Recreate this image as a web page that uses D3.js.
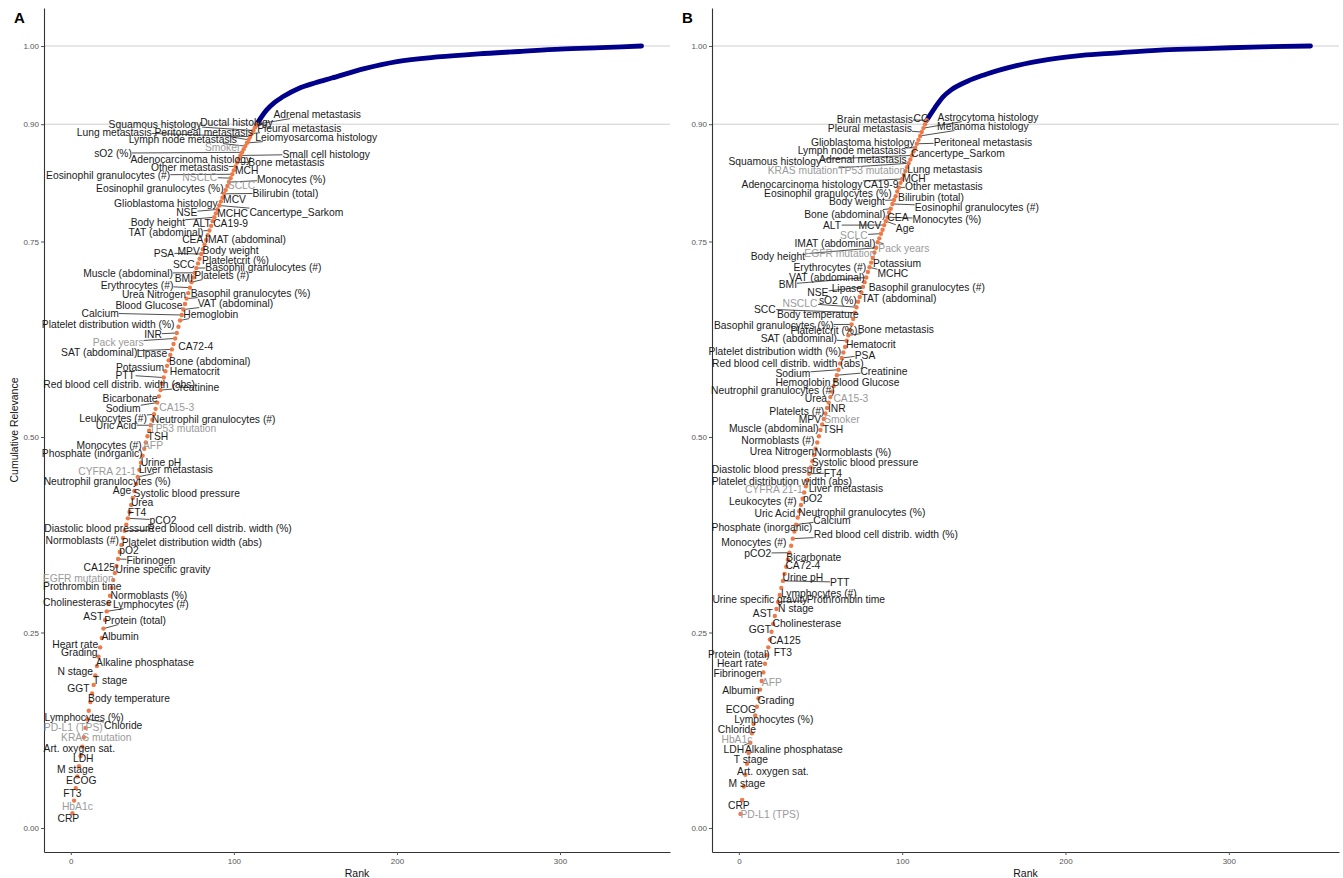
<!DOCTYPE html>
<html><head><meta charset="utf-8">
<script src="https://cdn.jsdelivr.net/npm/d3@7"></script>
<style>
body{margin:0;background:#fff;}
svg{display:block;font-family:"Liberation Sans",Arial,Helvetica,sans-serif;}
</style>
</head><body>
<svg id="chart" width="1343" height="878"></svg>
<script>
// ---------------- DATA ----------------
const featuresA = ["CRP","HbA1c","FT3","ECOG","M stage","LDH","Art. oxygen sat.","KRAS mutation","PD-L1 (TPS)","Chloride",
"Lymphocytes (%)","Body temperature","GGT","T stage","N stage","Alkaline phosphatase","Grading","Heart rate","Albumin","Protein (total)",
"AST","Lymphocytes (#)","Cholinesterase","Normoblasts (%)","Prothrombin time","EGFR mutation","Urine specific gravity","CA125","Fibrinogen","pO2",
"Platelet distribution width (abs)","Normoblasts (#)","Red blood cell distrib. width (%)","Diastolic blood pressure","pCO2","FT4","Urea","Systolic blood pressure","Age","Neutrophil granulocytes (%)",
"Liver metastasis","CYFRA 21-1","Urine pH","Phosphate (inorganic)","AFP","Monocytes (#)","TSH","TP53 mutation","Uric Acid","Neutrophil granulocytes (#)",
"Leukocytes (#)","CA15-3","Sodium","Bicarbonate","Creatinine","Red blood cell distrib. width (abs)","PTT","Hematocrit","Potassium","Bone (abdominal)",
"Lipase","SAT (abdominal)","CA72-4","Pack years","INR","Platelet distribution width (%)","Hemoglobin","Calcium","VAT (abdominal)","Blood Glucose",
"Basophil granulocytes (%)","Urea Nitrogen","Erythrocytes (#)","Platelets (#)","BMI","Muscle (abdominal)","Basophil granulocytes (#)","SCC","Plateletcrit (%)","PSA",
"MPV","Body weight","IMAT (abdominal)","CEA","TAT (abdominal)","CA19-9","ALT","Body height","MCHC","NSE",
"Cancertype_Sarkom","Glioblastoma histology","MCV","Bilirubin (total)","Eosinophil granulocytes (%)","SCLC","Monocytes (%)","NSCLC","Eosinophil granulocytes (#)","MCH",
"Other metastasis","Bone metastasis","Adenocarcinoma histology","Small cell histology","sO2 (%)","Smoker","Lymph node metastasis","Leiomyosarcoma histology","Peritoneal metastasis","Lung metastasis",
"Pleural metastasis","Squamous histology","Ductal histology","Adrenal metastasis"];

const valuesA = [0.019,0.035,0.051,0.066,0.079,0.092,0.104,0.116,0.128,0.139,
0.150,0.161,0.172,0.183,0.195,0.207,0.219,0.231,0.243,0.255,
0.266,0.277,0.287,0.297,0.307,0.317,0.326,0.335,0.344,0.353,
0.362,0.371,0.380,0.388,0.396,0.404,0.413,0.422,0.431,0.440,
0.449,0.458,0.467,0.476,0.485,0.493,0.501,0.508,0.515,0.522,
0.529,0.536,0.544,0.552,0.560,0.568,0.576,0.584,0.591,0.598,
0.605,0.612,0.619,0.626,0.633,0.641,0.649,0.656,0.663,0.670,
0.677,0.684,0.691,0.698,0.704,0.710,0.716,0.722,0.728,0.734,
0.740,0.746,0.752,0.758,0.764,0.770,0.776,0.781,0.786,0.791,
0.796,0.801,0.806,0.811,0.816,0.821,0.826,0.831,0.836,0.841,
0.846,0.851,0.856,0.860,0.864,0.868,0.872,0.876,0.880,0.884,
0.888,0.892,0.896,0.900];

const tailRanksA = [114,120,125,130,140,150,160,180,200,225,250,275,300,325,350];
const tailValuesA = [0.900,0.918,0.928,0.935,0.946,0.953,0.959,0.971,0.980,0.986,0.990,0.993,0.996,0.998,1.000];

const featuresB = ["PD-L1 (TPS)","CRP","M stage","Art. oxygen sat.","T stage","Alkaline phosphatase","LDH","HbA1c","Chloride","Lymphocytes (%)",
"ECOG","Grading","Albumin","AFP","Fibrinogen","Heart rate","Protein (total)","FT3","CA125","GGT",
"Cholinesterase","AST","N stage","Prothrombin time","Urine specific gravity","Lymphocytes (#)","PTT","Urine pH","CA72-4","Bicarbonate",
"pCO2","Monocytes (#)","Red blood cell distrib. width (%)","Phosphate (inorganic)","Calcium","Uric Acid","Neutrophil granulocytes (%)","Leukocytes (#)","pO2","Liver metastasis",
"CYFRA 21-1","Platelet distribution width (abs)","FT4","Diastolic blood pressure","Systolic blood pressure","Normoblasts (%)","Urea Nitrogen","Normoblasts (#)","TSH","Muscle (abdominal)",
"Smoker","MPV","INR","Platelets (#)","CA15-3","Urea","Neutrophil granulocytes (#)","Blood Glucose","Hemoglobin","Creatinine",
"Sodium","Red blood cell distrib. width (abs)","PSA","Platelet distribution width (%)","Hematocrit","SAT (abdominal)","Bone metastasis","Plateletcrit (%)","Basophil granulocytes (%)","Body temperature",
"SCC","NSCLC","TAT (abdominal)","sO2 (%)","Lipase","NSE","Basophil granulocytes (#)","BMI","VAT (abdominal)","MCHC",
"Erythrocytes (#)","Potassium","EGFR mutation","Body height","Pack years","IMAT (abdominal)","SCLC","MCV","ALT","Age",
"Monocytes (%)","CEA","Bone (abdominal)","Eosinophil granulocytes (#)","Body weight","Bilirubin (total)","Eosinophil granulocytes (%)","Other metastasis","CA19-9","Adenocarcinoma histology",
"MCH","Lung metastasis","TP53 mutation","KRAS mutation","Adrenal metastasis","Squamous histology","Cancertype_Sarkom","Lymph node metastasis","Peritoneal metastasis","Glioblastoma histology",
"Melanoma histology","Pleural metastasis","Astrocytoma histology","CC","Brain metastasis"];

const valuesB = [0.018,0.036,0.053,0.068,0.082,0.096,0.109,0.121,0.133,0.144,
0.155,0.166,0.177,0.188,0.199,0.210,0.221,0.231,0.241,0.251,
0.261,0.271,0.280,0.289,0.298,0.307,0.316,0.325,0.334,0.343,
0.352,0.361,0.370,0.379,0.388,0.397,0.405,0.413,0.421,0.429,
0.437,0.445,0.453,0.461,0.469,0.477,0.485,0.493,0.501,0.509,
0.516,0.523,0.530,0.537,0.544,0.551,0.558,0.565,0.572,0.579,
0.586,0.594,0.601,0.608,0.615,0.623,0.630,0.637,0.644,0.651,
0.659,0.666,0.673,0.679,0.685,0.692,0.698,0.704,0.711,0.717,
0.723,0.729,0.736,0.742,0.749,0.754,0.760,0.765,0.771,0.776,
0.781,0.787,0.792,0.798,0.803,0.808,0.814,0.819,0.825,0.830,
0.835,0.840,0.845,0.850,0.855,0.860,0.865,0.870,0.875,0.880,
0.885,0.890,0.895,0.900,0.905];

const tailRanksB = [115,120,125,130,140,150,170,190,210,230,260,290,320,350];
const tailValuesB = [0.905,0.921,0.935,0.944,0.955,0.963,0.975,0.983,0.988,0.991,0.995,0.997,0.999,1.000];

// features drawn in grey
const greyFeatures = ["HbA1c","KRAS mutation","PD-L1 (TPS)","EGFR mutation","CYFRA 21-1","AFP","TP53 mutation","CA15-3","Pack years","SCLC","NSCLC","Smoker"];

const xTickValues = [0,100,200,300];
const yTickValues = [0,0.25,0.5,0.75,0.9,1];
const refLineValues = [0.9,1.0];
const panelTags = ["A","B"];

// -------- label layout (in data units: [rank, cumulative relevance]) --------
const labelPosA = [[-1.5,.0128],[4.0,.0281],[0.9,.0448],[6.4,.0614],[2.7,.0754],[7.6,.0895],[5.2,.1023],[15.6,.1164],[1.5,.1292],[32.1,.1317],
[8.2,.1419],[35.7,.1662],[4.6,.1790],[24.1,.1893],[2.7,.2008],[45.5,.2123],[5.2,.2251],[2.7,.2353],[30.2,.2455],[39.4,.2660],
[13.7,.2711],[49.1,.2864],[4.0,.2890],[47.9,.2980],[7.0,.3095],[4.6,.3197],[56.5,.3312],[17.4,.3338],[49.1,.3427],[35.7,.3555],
[74.2,.3657],[7.0,.3683],[91.3,.3836],[17.4,.3836],[56.5,.3939],[40.6,.4041],[43.7,.4169],[71.1,.4284],[31.4,.4322],[22.3,.4437],
[64.4,.4591],[22.3,.4565],[55.3,.4680],[13.1,.4795],[50.4,.4898],[23.5,.4898],[53.4,.5013],[68.7,.5115],[27.8,.5153],[87.6,.5230],
[25.9,.5243],[65.0,.5384],[32.1,.5371],[36.3,.5499],[76.6,.5639],[29.6,.5678],[33.3,.5793],[76.0,.5844],[42.4,.5895],[85.2,.5972],
[49.8,.6074],[17.4,.6087],[76.6,.6164],[29.0,.6215],[50.4,.6317],[22.9,.6445],[85.8,.6573],[18.0,.6586],[101.0,.6714],[47.9,.6688],
[110.2,.6841],[51.0,.6829],[40.6,.6944],[92.5,.7072],[69.3,.7033],[35.1,.7097],[118.1,.7174],[69.3,.7212],[101.0,.7263],[57.1,.7353],
[72.3,.7379],[98.0,.7391],[107.1,.7532],[74.8,.7532],[58.3,.7621],[98.0,.7737],[80.3,.7737],[53.4,.7749],[99.2,.7864],[71.1,.7877],
[138.3,.7877],[58.3,.7992],[100.4,.8043],[131.6,.8120],[54.6,.8184],[104.7,.8223],[135.2,.8299],[79.1,.8325],[22.9,.8350],[107.8,.8414],
[73.0,.8453],[132.2,.8517],[73.6,.8555],[156.6,.8619],[25.9,.8632],[93.1,.8708],[68.7,.8811],[150.5,.8836],[81.5,.8900],[26.6,.8900],
[140.1,.8951],[51.6,.9003],[101.6,.9028],[151.1,.9130]];

const labelPosB = [[19.0,.0179],[0.0,.0294],[4.9,.0575],[20.8,.0729],[7.3,.0882],[33.7,.1010],[-3.1,.1010],[-1.2,.1138],[-1.2,.1266],[21.4,.1394],
[1.2,.1522],[22.7,.1637],[1.2,.1765],[20.2,.1867],[-0.6,.1982],[0.6,.2110],[0.0,.2225],[26.9,.2251],[28.2,.2404],[12.9,.2545],
[41.6,.2621],[14.7,.2749],[34.9,.2813],[65.5,.2928],[12.9,.2928],[49.0,.3005],[61.8,.3146],[39.2,.3210],[39.2,.3363],[45.9,.3465],
[11.6,.3517],[9.2,.3657],[90.0,.3760],[14.1,.3849],[57.0,.3939],[22.0,.4028],[75.3,.4041],[14.7,.4182],[45.3,.4220],[65.5,.4348],
[21.4,.4335],[26.3,.4437],[57.6,.4540],[17.1,.4591],[77.2,.4680],[69.8,.4808],[26.3,.4821],[23.9,.4962],[57.6,.5102],[21.4,.5115],
[63.1,.5230],[43.5,.5230],[60.0,.5371],[35.5,.5332],[68.6,.5499],[47.2,.5499],[20.8,.5601],[77.8,.5703],[39.2,.5703],[88.8,.5844],
[33.1,.5818],[30.0,.5946],[77.2,.6049],[22.0,.6100],[80.8,.6189],[36.7,.6266],[96.1,.6381],[52.1,.6368],[21.4,.6432],[48.4,.6573],
[15.9,.6637],[37.4,.6714],[98.0,.6777],[60.6,.6752],[66.1,.6905],[48.4,.6854],[115.1,.6918],[30.0,.6957],[53.9,.7046],[94.3,.7097],
[55.7,.7174],[96.8,.7225],[61.8,.7353],[23.9,.7315],[101.0,.7417],[58.8,.7481],[70.4,.7583],[80.2,.7711],[57.0,.7711],[101.7,.7673],
[127.4,.7788],[97.4,.7813],[64.9,.7852],[145.7,.7941],[72.3,.8018],[117.6,.8069],[54.5,.8120],[125.5,.8210],[87.0,.8235],[38.6,.8235],
[107.2,.8312],[126.1,.8427],[81.4,.8414],[39.2,.8414],[75.9,.8555],[22.0,.8529],[134.1,.8632],[69.2,.8670],[149.4,.8772],[75.9,.8772],
[149.4,.8977],[80.2,.8951],[152.5,.9092],[111.5,.9079],[83.3,.9066]];

// ---------------- DRAW ----------------
const svg = d3.select("#chart");
const plotTop = 8, plotBottom = 852;
const xDomain = [-16.45, 367.45];
const yDomain = [-0.0307, 1.0486];
const pointColor = "#EE7A48";
const lineColor = "#00008B";
const textColor = "#1a1a1a";
const greyColor = "#9a9a9a";

const panels = [
  {tag: panelTags[0], left: 44, right: 670, features: featuresA, values: valuesA, tailR: tailRanksA, tailV: tailValuesA, labels: labelPosA, yTitle: true},
  {tag: panelTags[1], left: 712, right: 1339, features: featuresB, values: valuesB, tailR: tailRanksB, tailV: tailValuesB, labels: labelPosB, yTitle: false}
];

panels.forEach(p => {
  const x = d3.scaleLinear().domain(xDomain).range([p.left, p.right]);
  const y = d3.scaleLinear().domain(yDomain).range([plotBottom, plotTop]);
  const g = svg.append("g");

  g.selectAll("line.ref").data(refLineValues).join("line")
    .attr("x1", p.left).attr("x2", p.right)
    .attr("y1", d => y(d)).attr("y2", d => y(d))
    .attr("stroke", "#cfcfcf").attr("stroke-width", 1);

  const xAxis = g.append("g").attr("transform", `translate(0,${plotBottom})`)
    .call(d3.axisBottom(x).tickValues(xTickValues).tickSize(3).tickSizeOuter(0).tickPadding(3));
  const yAxis = g.append("g").attr("transform", `translate(${p.left},0)`)
    .call(d3.axisLeft(y).tickValues(yTickValues).tickFormat(d3.format(".2f")).tickSize(3).tickSizeOuter(0).tickPadding(2));
  [xAxis, yAxis].forEach(a => {
    a.select(".domain").attr("stroke", "#333").attr("stroke-width", 1.1);
    a.selectAll(".tick line").attr("stroke", "#555");
    a.selectAll(".tick text").attr("fill", "#555").attr("font-size", "8px")
      .attr("font-family", "'Liberation Sans',Arial,sans-serif");
  });

  g.append("text").attr("x", (p.left + p.right) / 2).attr("y", 877)
    .attr("text-anchor", "middle").attr("font-size", "10.5px").attr("fill", "#111").text("Rank");
  if (p.yTitle) {
    g.append("text").attr("transform", `translate(18,${(plotTop + plotBottom) / 2}) rotate(-90)`)
      .attr("text-anchor", "middle").attr("font-size", "10.5px").attr("fill", "#111").text("Cumulative Relevance");
  }
  g.append("text").attr("x", p.left - 30).attr("y", 23)
    .attr("font-size", "15px").attr("font-weight", "bold").attr("fill", "#000").text(p.tag);

  const tail = p.tailR.map((r, i) => [r, p.tailV[i]]);
  g.append("path").datum(tail)
    .attr("fill", "none").attr("stroke", lineColor).attr("stroke-width", 4.8)
    .attr("stroke-linecap", "round").attr("stroke-linejoin", "round")
    .attr("d", d3.line().x(d => x(d[0])).y(d => y(d[1])).curve(d3.curveMonotoneX));

  const data = p.features.map((f, i) => ({
    name: f, rank: i + 1, value: p.values[i],
    lx: p.labels[i][0], ly: p.labels[i][1],
    grey: greyFeatures.includes(f)
  }));

  const segG = g.append("g");
  g.append("g").selectAll("circle").data(data).join("circle")
    .attr("cx", d => x(d.rank)).attr("cy", d => y(d.value)).attr("r", 2.2)
    .attr("fill", pointColor);

  const texts = g.append("g").selectAll("text").data(data).join("text")
    .attr("x", d => x(d.lx)).attr("y", d => y(d.ly)).attr("dy", "0.35em")
    .attr("text-anchor", "middle").attr("font-size", "10.3px")
    .attr("fill", d => d.grey ? greyColor : textColor)
    .text(d => d.name);

  texts.each(function(d) {
    const b = this.getBBox();
    const bx0 = b.x, bx1 = b.x + b.width, by0 = b.y + 1, by1 = b.y + b.height - 1;
    const px = x(d.rank), py = y(d.value);
    if (px >= bx0 - 1 && px <= bx1 + 1 && py >= by0 - 1 && py <= by1 + 1) return;
    const cx = (bx0 + bx1) / 2, cy = (by0 + by1) / 2;
    const dx = px - cx, dy = py - cy;
    let t = 1;
    if (dx !== 0) t = Math.min(t, ((dx > 0 ? bx1 : bx0) - cx) / dx);
    if (dy !== 0) t = Math.min(t, ((dy > 0 ? by1 : by0) - cy) / dy);
    const sx = cx + t * dx, sy = cy + t * dy;
    const dist = Math.hypot(px - sx, py - sy);
    if (dist < 6) return;
    segG.append("line").attr("x1", sx).attr("y1", sy).attr("x2", px).attr("y2", py)
      .attr("stroke", "#222").attr("stroke-width", 0.8);
  });
});
</script>
</body></html>
